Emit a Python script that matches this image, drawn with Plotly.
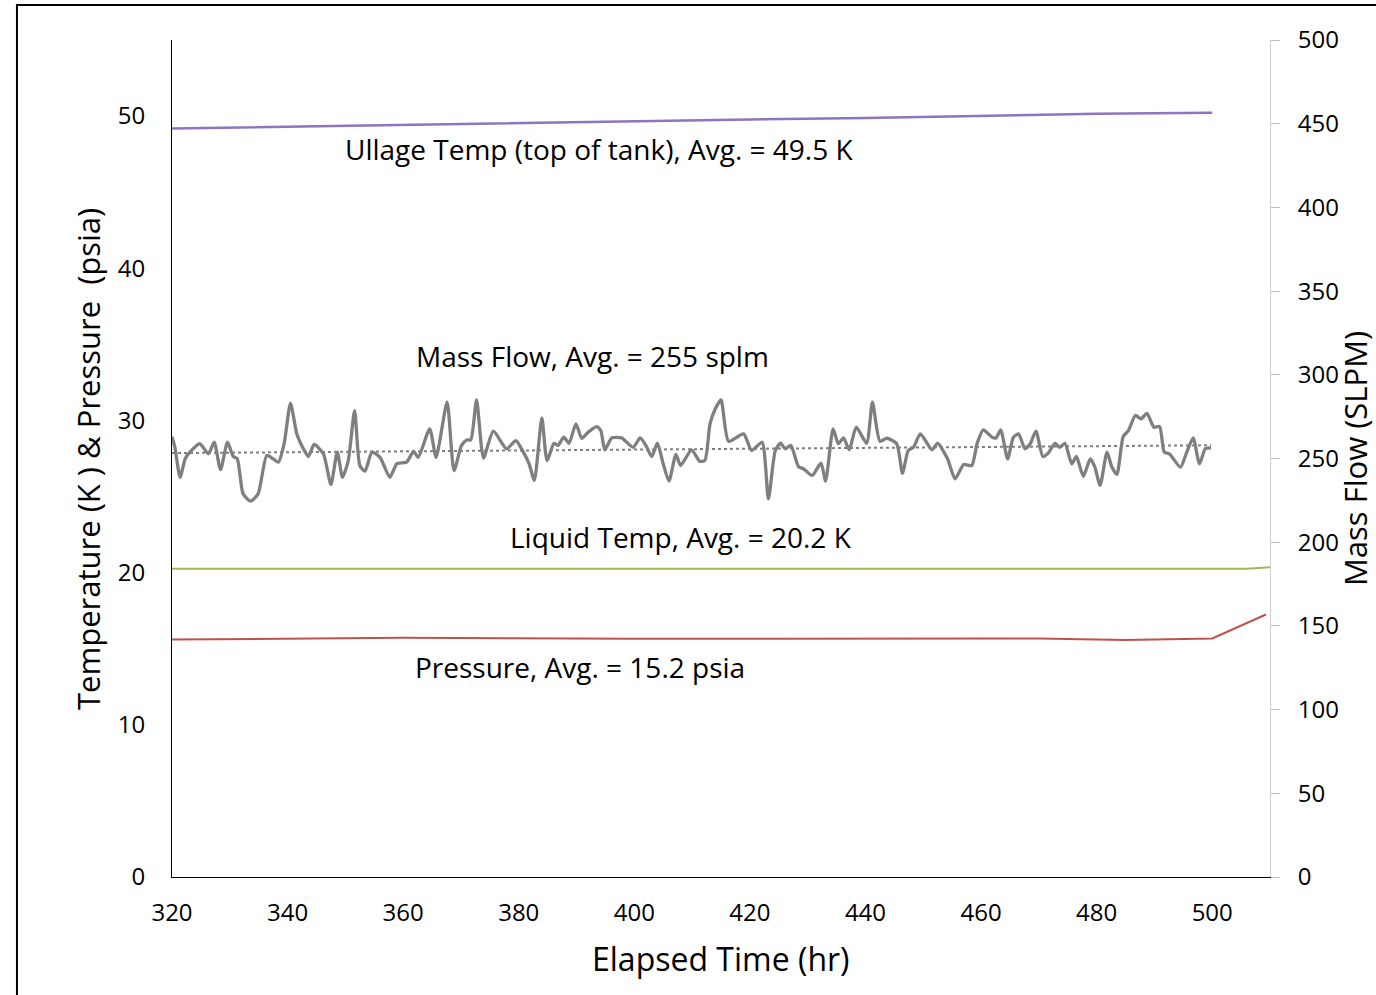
import numpy as np
import plotly.graph_objects as go

# Mass flow record (SLPM) against elapsed time (hr)
flow_time = [
    320.0, 320.5, 321.4, 322.3, 323.1, 324.8, 326.3, 327.3, 328.4, 329.6,
    330.6, 331.3, 332.3, 333.6, 334.9, 336.4, 337.5, 338.4, 339.4, 340.5,
    341.6, 342.6, 343.6, 344.6, 346.2, 347.5, 348.6, 349.5, 350.5, 351.6,
    352.5, 353.4, 354.6, 356.0, 357.7, 358.9, 360.6, 361.8, 362.6, 364.6,
    365.7, 367.6, 368.8, 370.1, 371.0, 371.7, 372.7, 373.9, 375.6, 377.9,
    379.5, 380.8, 381.8, 382.7, 384.0, 384.9, 386.1, 386.8, 387.8, 388.7,
    389.9, 390.9, 392.0, 393.5, 394.2, 394.9, 396.1, 397.8, 399.8, 401.0,
    402.0, 403.0, 404.0, 405.0, 406.0, 407.2, 408.0, 409.9, 411.3, 412.2,
    413.1, 414.0, 415.0, 416.3, 418.9, 420.3, 422.1, 423.2, 424.4, 425.3,
    426.1, 427.1, 428.4, 429.3, 430.8, 432.3, 433.1, 434.4, 435.3, 436.2,
    437.2, 438.4, 440.2, 441.2, 442.5, 443.7, 445.4, 446.4, 447.4, 448.3,
    449.5, 451.5, 452.5, 454.2, 455.5, 457.0, 458.4, 459.3, 460.4, 461.9,
    462.6, 463.4, 464.6, 465.6, 466.5, 467.6, 468.5, 469.5, 470.7, 471.6,
    472.8, 473.6, 474.5, 475.7, 476.5, 477.7, 478.9, 479.7, 480.6, 481.8,
    482.6, 483.5, 484.6, 485.5, 486.7, 487.7, 488.7, 489.9, 490.9, 491.7,
    492.6, 494.5, 495.6, 496.7, 497.8, 498.8, 499.8,
]
mass_flow = [
    263.0, 256.7, 238.8, 250.0, 253.8, 258.8, 252.8, 259.7, 243.3, 259.7,
    251.2, 249.8, 228.9, 224.5, 228.9, 251.8, 249.8, 247.8, 258.8, 283.0,
    264.7, 256.7, 251.2, 258.4, 252.8, 234.5, 253.8, 238.8, 248.8, 278.6,
    245.8, 242.4, 253.8, 250.7, 238.8, 246.8, 247.8, 254.3, 250.7, 267.7,
    250.7, 283.6, 242.8, 257.8, 261.1, 261.1, 285.0, 250.3, 266.3, 255.8,
    260.7, 253.8, 246.8, 236.9, 274.3, 248.8, 259.1, 257.8, 262.7, 259.1,
    270.7, 262.1, 265.7, 269.1, 266.7, 255.2, 262.3, 262.3, 256.7, 262.3,
    257.8, 251.2, 259.1, 246.8, 236.5, 252.4, 245.8, 255.2, 248.4, 248.8,
    270.7, 279.6, 285.0, 260.3, 264.7, 254.8, 259.7, 225.9, 254.8, 259.1,
    255.8, 257.8, 245.2, 243.8, 239.9, 247.2, 236.5, 267.7, 258.8, 262.3,
    255.2, 268.7, 259.1, 283.6, 260.3, 262.1, 258.8, 241.2, 254.8, 256.7,
    264.7, 255.2, 259.1, 249.8, 237.8, 246.4, 245.8, 258.8, 267.1, 262.7,
    262.3, 267.1, 249.8, 262.7, 264.7, 255.8, 258.8, 266.3, 251.2, 253.1,
    259.1, 256.7, 259.1, 246.8, 251.2, 239.3, 249.8, 244.8, 233.9, 253.8,
    245.2, 240.5, 263.1, 266.7, 275.7, 273.7, 277.0, 268.7, 269.1, 253.8,
    252.8, 244.8, 253.8, 262.3, 246.8, 255.8, 256.3,
]

# Ullage (top of tank) temperature, K
ullage_time = [320, 340, 360, 380, 400, 420, 440, 460, 480, 500]
ullage_temp = [49.18, 49.30, 49.45, 49.55, 49.68, 49.78, 49.88, 50.00, 50.15, 50.22]

# Liquid temperature, K
liquid_time = [320, 360, 400, 440, 480, 506, 510]
liquid_temp = [20.25, 20.25, 20.25, 20.25, 20.25, 20.26, 20.36]

# Tank pressure, psia
pressure_time = [320, 360, 400, 440, 470, 485, 500, 509.3]
pressure_psia = [15.60, 15.72, 15.65, 15.66, 15.68, 15.58, 15.68, 17.25]

x_ticks = list(range(320, 501, 20))
left_ticks = [0, 10, 20, 30, 40, 50]
right_ticks = [0, 50, 100, 150, 200, 250, 300, 350, 400, 450, 500]

FONT = "Open Sans"

fig = go.Figure()

fig.add_trace(go.Scatter(
    x=ullage_time, y=ullage_temp, mode="lines",
    line=dict(color="#8C76BF", width=2.5), yaxis="y", showlegend=False))
fig.add_trace(go.Scatter(
    x=liquid_time, y=liquid_temp, mode="lines",
    line=dict(color="#9BBB59", width=2), yaxis="y", showlegend=False))
fig.add_trace(go.Scatter(
    x=pressure_time, y=pressure_psia, mode="lines",
    line=dict(color="#C0504D", width=2), yaxis="y", showlegend=False))

fig.add_trace(go.Scatter(
    x=flow_time, y=mass_flow, mode="lines",
    line=dict(color="#7F7F7F", width=3.3, shape="spline", smoothing=0.6),
    yaxis="y2", showlegend=False))

# Linear trend of the mass flow
slope, intercept = np.polyfit(flow_time, mass_flow, 1)
trend_x = [flow_time[0], flow_time[-1]]
trend_y = [slope * t + intercept for t in trend_x]
fig.add_trace(go.Scatter(
    x=trend_x, y=trend_y, mode="lines",
    line=dict(color="#7F7F7F", width=2, dash="dot"),
    yaxis="y2", showlegend=False))

label_font = dict(family=FONT, size=28, color="#000000")
labels = [
    (393.9, 47.83, "Ullage Temp (top of tank), Avg. = 49.5 K"),
    (392.7, 34.23, "Mass Flow, Avg. = 255 splm"),
    (408.1, 22.34, "Liquid Temp, Avg. = 20.2 K"),
    (390.6, 13.80, "Pressure, Avg. = 15.2 psia"),
]
annotations = [
    dict(x=x, y=y, xref="x", yref="y", text=t, showarrow=False,
         font=label_font, xanchor="center", yanchor="middle")
    for x, y, t in labels
]

annotations += [
    dict(x=0.5, y=-0.097, xref="paper", yref="paper", text="Elapsed Time (hr)",
         showarrow=False, font=dict(family=FONT, size=32, color="#000000"),
         xanchor="center", yanchor="middle"),
    dict(x=-0.077, y=0.5, xref="paper", yref="paper",
         text="Temperature (K ) &amp; Pressure\u00a0 (psia)", textangle=-90,
         showarrow=False, font=dict(family=FONT, size=31, color="#000000"),
         xanchor="center", yanchor="middle"),
    dict(x=1.077, y=0.5, xref="paper", yref="paper", text="Mass Flow (SLPM)",
         textangle=-90, showarrow=False,
         font=dict(family=FONT, size=31, color="#000000"),
         xanchor="center", yanchor="middle"),
]

tick_font = dict(family=FONT, size=24, color="#000000")

fig.update_layout(
    width=1376, height=995,
    margin=dict(l=172, r=106, t=40, b=118, pad=0),
    paper_bgcolor="#FFFFFF", plot_bgcolor="#FFFFFF",
    font=dict(family=FONT),
    xaxis=dict(
        range=[320, 510], tickvals=x_ticks, ticks="", showgrid=False,
        zeroline=False, showline=True, linecolor="#000000", linewidth=1,
        tickfont=tick_font, ticklabelstandoff=14,
    ),
    yaxis=dict(
        range=[0, 55], tickvals=left_ticks, ticks="", showgrid=False,
        zeroline=False, showline=True, linecolor="#000000", linewidth=1,
        tickfont=tick_font, ticklabelstandoff=21,
    ),
    yaxis2=dict(
        range=[0, 500], tickvals=right_ticks, overlaying="y", side="right",
        ticks="outside", ticklen=9, tickcolor="#BFBFBF", tickwidth=1,
        showgrid=False, zeroline=False, showline=True, linecolor="#D0D0D0",
        linewidth=1, tickfont=tick_font, ticklabelstandoff=13,
    ),
    annotations=annotations,
    shapes=[dict(type="rect", xref="paper", yref="paper",
                 x0=-0.1412, x1=1.2, y0=-0.2, y1=1.0418,
                 line=dict(color="#000000", width=2), layer="above")],
)

fig.write_html("out.html")
